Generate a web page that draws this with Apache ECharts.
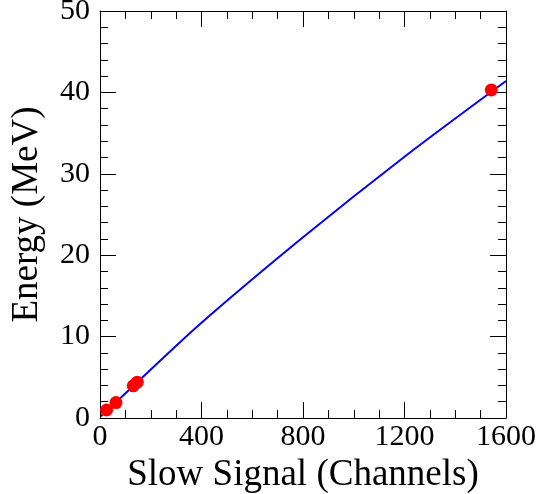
<!DOCTYPE html>
<html>
<head>
<meta charset="utf-8">
<script src="https://cdn.jsdelivr.net/npm/echarts@6/dist/echarts.min.js"></script>
<style>
	html, body { margin: 0; padding: 0; background: #fff; }
	#chart { width: 541px; height: 494px; }
</style>
</head>
<body>
<div id="chart"></div>
<script>
	// measured points (channel, MeV)
	var pointX = [26, 63, 131, 147, 1542];
	var pointY = [0.98, 1.9, 3.95, 4.4, 40.3];
	// calibration curve
	var fitX = [4, 26, 63, 147, 400, 800, 1200, 1600];
	var fitY = [0.2, 0.98, 1.95, 4.4, 11.7, 22.2, 32.1, 41.4];

	var fontFamily = '"Liberation Serif", "DejaVu Serif", serif';

	function zip(xs, ys) {
		return xs.map(function (x, i) { return [x, ys[i]]; });
	}

	function frameAxis(opt) {
		return Object.assign({
			type: 'value',
			axisLine: { show: true, onZero: false, lineStyle: { color: '#000', width: 1 } },
			axisTick: { show: true, inside: true, length: 16, lineStyle: { color: '#000', width: 1 } },
			minorTick: { show: true, length: 8, lineStyle: { color: '#000', width: 1 } },
			splitLine: { show: false }
		}, opt);
	}

	var labelStyle = { fontSize: 30, color: '#000', fontFamily: fontFamily };
	var nameStyle = { fontSize: 37, color: '#000', fontFamily: fontFamily };

	var myChart = echarts.init(document.getElementById('chart'));
	myChart.setOption({
		animation: false,
		textStyle: { fontFamily: fontFamily },
		grid: { left: 100, right: 35, top: 11, bottom: 76, containLabel: false, outerBoundsMode: 'none' },
		xAxis: [
			frameAxis({
				min: 0, max: 1600, interval: 400,
				name: 'Slow Signal (Channels)',
				nameLocation: 'middle',
				nameGap: 35,
				nameTextStyle: nameStyle,
				minorTick: { show: true, splitNumber: 4, length: 8, lineStyle: { color: '#000' } },
				axisLabel: Object.assign({ margin: 4, formatter: function (v) { return String(v); } }, labelStyle)
			}),
			frameAxis({
				position: 'top',
				min: 0, max: 1600, interval: 400,
				minorTick: { show: true, splitNumber: 4, length: 8, lineStyle: { color: '#000' } },
				axisLabel: { show: false }
			})
		],
		yAxis: [
			frameAxis({
				min: 0, max: 50, interval: 10,
				name: 'Energy (MeV)',
				nameLocation: 'middle',
				nameGap: 54,
				nameTextStyle: nameStyle,
				minorTick: { show: true, splitNumber: 5, length: 8, lineStyle: { color: '#000' } },
				axisLabel: Object.assign({ margin: 10 }, labelStyle)
			}),
			frameAxis({
				position: 'right',
				min: 0, max: 50, interval: 10,
				minorTick: { show: true, splitNumber: 5, length: 8, lineStyle: { color: '#000' } },
				axisLabel: { show: false }
			})
		],
		series: [{
			name: 'fit',
			type: 'line',
			data: zip(fitX, fitY),
			smooth: 0.3,
			showSymbol: false,
			symbol: 'none',
			lineStyle: { color: '#0000ff', width: 2 },
			z: 2
		}, {
			name: 'data',
			type: 'scatter',
			data: zip(pointX, pointY),
			symbol: 'circle',
			symbolSize: 13,
			itemStyle: { color: '#ff0000', opacity: 1 },
			z: 3
		}]
	});
</script>
</body>
</html>
